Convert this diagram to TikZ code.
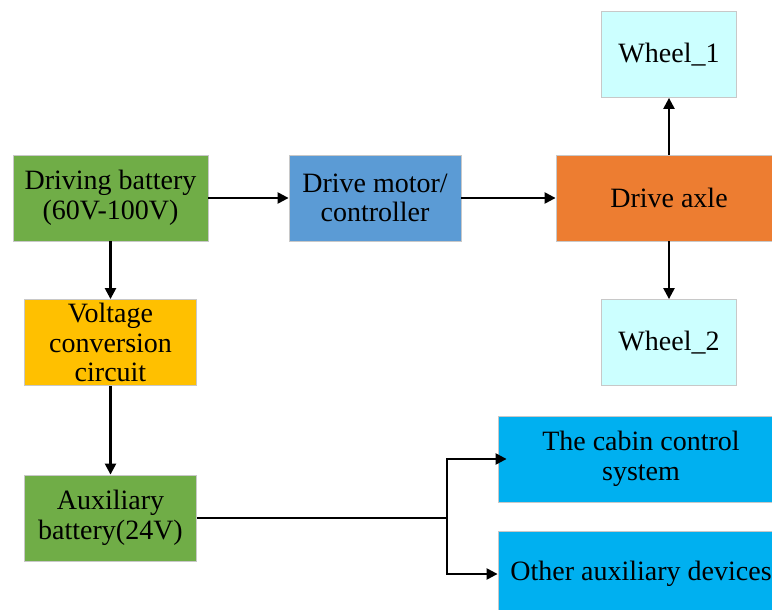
\documentclass[tikz,border=0pt]{standalone}
\usepackage{fontspec}
\setmainfont{Liberation Serif}
\usetikzlibrary{arrows.meta}
\definecolor{batgreen}{HTML}{70AD47}
\definecolor{motorblue}{HTML}{5B9BD5}
\definecolor{axleorange}{HTML}{ED7D31}
\definecolor{wheelcyan}{HTML}{CCFFFF}
\definecolor{convyellow}{HTML}{FFC000}
\definecolor{auxblue}{HTML}{00B0F0}
\definecolor{edgegray}{HTML}{C8C8C8}
\begin{document}
\begin{tikzpicture}[x=1pt,y=-1pt,>={Triangle[length=11pt,width=11pt]},line width=2.3pt]
		\tikzset{blk/.style={draw=edgegray,line width=0.8pt,inner sep=0pt,align=center,
				font=\fontsize{28}{29.5}\selectfont},
			link/.style={->,line width=2.3pt}
		}
		\clip (0,0) rectangle (772,610);
		\node[blk,fill=batgreen,minimum width=195pt,minimum height=86pt] (bat) at (110.5,198) {Driving battery\\(60V-100V)};
		\node[blk,fill=motorblue,minimum width=172pt,minimum height=86pt] (motor) at (375,198) {Drive motor/\\controller};
		\node[blk,fill=axleorange,minimum width=226pt,minimum height=86pt] (axle) at (669,198) {Drive axle};
		\node[blk,fill=wheelcyan,minimum width=135pt,minimum height=86pt] (wheelA) at (669,54.5) {Wheel\_1};
		\node[blk,fill=wheelcyan,minimum width=135pt,minimum height=86pt] (wheelB) at (669,342.5) {Wheel\_2};
		\node[blk,fill=convyellow,minimum width=172pt,minimum height=86pt] (conv) at (110.5,342.5) {Voltage\\conversion\\circuit};
		\node[blk,fill=batgreen,minimum width=172pt,minimum height=86pt] (aux) at (110.5,518) {Auxiliary\\battery(24V)};
		\node[blk,fill=auxblue,minimum width=286pt,minimum height=86pt] (cabin) at (641,459) {The cabin control\\system};
		\node[blk,fill=auxblue,minimum width=286pt,minimum height=86pt] (other) at (641,574) {Other auxiliary devices};
		\coordinate (split) at (447,518);
		\draw[link] (bat) -- (motor);
		\draw[link] (motor) -- (axle);
		\draw[link] (axle) -- (wheelA);
		\draw[link] (axle) -- (wheelB);
		\draw[link] (bat) -- (conv);
		\draw[link] (conv) -- (aux);
		\draw (aux.east) -- (split);
		\draw[link,shorten >=-9pt] (split) |- (cabin.west);
		\draw[link] (split) |- (other.west);
	\end{tikzpicture}
\end{document}
